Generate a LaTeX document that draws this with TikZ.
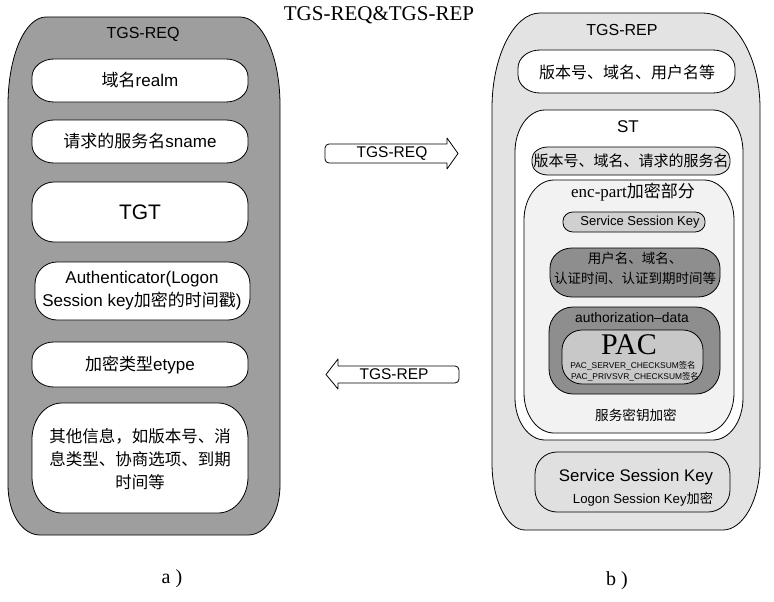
\documentclass[tikz,border=0pt]{standalone}
\usepackage{fontspec}
\setmainfont{Liberation Sans}
\newfontfamily\cjk{Noto Sans CJK SC}
\newfontfamily\tms{Liberation Serif}
\newcommand\zh[1]{{\cjk #1}}
\newcommand\fsz[2]{\fontsize{#1}{#2}\selectfont}
% elliptical-corner box: style, x1, y1, x2, y2, rx, ry
\newcommand\pillbox[7]{%
 \draw[#1] (#2,#3+#7) .. controls (#2,#3+0.448*#7) and (#2+0.448*#6,#3) .. (#2+#6,#3)
  -- (#4-#6,#3) .. controls (#4-0.448*#6,#3) and (#4,#3+0.448*#7) .. (#4,#3+#7)
  -- (#4,#5-#7) .. controls (#4,#5-0.448*#7) and (#4-0.448*#6,#5) .. (#4-#6,#5)
  -- (#2+#6,#5) .. controls (#2+0.448*#6,#5) and (#2,#5-0.448*#7) .. (#2,#5-#7) -- cycle;}
\definecolor{panelAgray}{RGB}{158,158,158}
\definecolor{panelBgray}{RGB}{227,227,227}
\definecolor{lightbox}{RGB}{224,224,224}
\definecolor{encgray}{RGB}{242,242,242}
\definecolor{midgray}{RGB}{208,208,208}
\definecolor{darkgray2}{RGB}{142,142,142}
\definecolor{pacgray}{RGB}{200,200,200}
\tikzset{
  outline/.style={draw=black,line width=0.8pt},
  panelA/.style={outline,fill=panelAgray},
  panelB/.style={outline,fill=panelBgray},
  wbox/.style={outline,fill=white},
  txt/.style={inner sep=0pt,align=center,text=black},
  blockarrow/.style={outline,fill=white,line join=round}
}
\begin{document}
\begin{tikzpicture}[x=1pt,y=-1pt]
\useasboundingbox (0,0) rectangle (774,602);

% title
\node[txt,font=\tms\fsz{21}{24}] (title) at (379,15) {TGS-REQ\&TGS-REP};

% ---------- left panel ----------
\draw[panelA] (8,105) .. controls (8,56) and (25,17) .. (46,17) -- (240,17)
  .. controls (262,17) and (280,56) .. (280,105) -- (280,485)
  .. controls (280,513) and (266,535) .. (248,535) -- (40,535)
  .. controls (22,535) and (8,513) .. (8,485) -- cycle;
\node[txt,font=\fsz{16}{18}] (reqtitle) at (143,34) {TGS-REQ};

\pillbox{wbox}{32}{59}{248}{102}{22}{18}
\node[txt,font=\fsz{17}{20}] (realm) at (140,80) {\zh{域名}realm};

\pillbox{wbox}{32}{120}{248}{163}{22}{18}
\node[txt,font=\fsz{17}{20}] (sname) at (140,141) {\zh{请求的服务名}sname};

\pillbox{wbox}{32}{182}{248}{242}{22}{22}
\node[txt,font=\fsz{21}{24}] (tgt) at (140,212) {TGT};

\pillbox{wbox}{35}{262}{250}{320}{22}{22}
\node[txt,font=\fsz{17}{23}] (auth) at (142,291) {Authenticator(Logon\\Session key\zh{加密的时间戳})};

\pillbox{wbox}{32}{342}{248}{387}{22}{18}
\node[txt,font=\fsz{17}{20}] (etype) at (140,365) {\zh{加密类型}etype};

\pillbox{wbox}{32}{403}{248}{513}{30}{36}
\node[txt,font=\cjk\fsz{16.5}{23}] (other) at (140,459) {其他信息，如版本号、消\\息类型、协商选项、到期\\时间等};

% ---------- arrows ----------
\draw[blockarrow] (447,163) [rounded corners=4] -- (325,163) -- (325,144) [sharp corners] -- (447,144)
  -- (447,138) -- (458,153.5) -- (447,169) -- cycle;
\node[txt,font=\fsz{15.5}{18}] (reqarrow) at (392,153.5) {TGS-REQ};

\draw[blockarrow] (338,366) [rounded corners=4] -- (459,366) -- (459,383) [sharp corners] -- (338,383)
  -- (338,389) -- (326,374.5) -- (338,359) -- cycle;
\node[txt,font=\fsz{15.5}{18}] (reparrow) at (394,374.5) {TGS-REP};

% ---------- right panel ----------
\draw[panelB] (492,108) .. controls (492,56) and (514,13) .. (540,13) -- (703,13)
  .. controls (734,13) and (760,56) .. (760,108) -- (760,463)
  .. controls (760,500) and (743,530) .. (723,530) -- (525,530)
  .. controls (507,530) and (492,500) .. (492,463) -- cycle;
\node[txt,font=\fsz{16}{18}] (reptitle) at (622,30) {TGS-REP};

\pillbox{wbox}{518}{50}{735}{93}{22}{18}
\node[txt,font=\cjk\fsz{16}{20}] (repinfo) at (627,72) {版本号、域名、用户名等};

% ST
\pillbox{wbox}{515}{110}{743}{440}{30}{42}
\node[txt,font=\fsz{17}{20}] (st) at (628,127) {ST};

\pillbox{outline,fill=lightbox}{532}{147}{730}{175}{16}{12}
\node[txt,font=\cjk\fsz{15}{18}] (stinfo) at (631,161) {版本号、域名、请求的服务名};

% enc-part
\pillbox{outline,fill=encgray}{524}{180}{734}{433}{30}{40}
\node[txt,font=\fsz{17}{20}] (enc) at (633,192) {{\tms enc-part}\zh{加密部分}};

\pillbox{outline,fill=midgray}{563}{212}{705}{232}{10}{9}
\node[txt,font=\fsz{13}{15}] (ssksmall) at (640,222) {Service Session Key};

\pillbox{outline,fill=darkgray2}{550}{248}{720}{297}{22}{20}
\node[txt,font=\cjk\fsz{13.5}{20}] (userinfo) at (635,268) {用户名、域名、\\认证时间、认证到期时间等};

\pillbox{outline,fill=darkgray2}{549}{307}{720}{394}{24}{25}
\node[txt,font=\fsz{13.8}{16}] (authdata) at (632,318) {authorization\textendash data};

\pillbox{outline,fill=pacgray}{562}{330}{703}{384}{20}{20}
\node[txt,font=\tms\fsz{30}{32}] (pac) at (629,345) {PAC};
\node[txt,font=\fsz{8.4}{10}] (pacsrv) at (633,366) {PAC\_SERVER\_CHECKSUM\zh{签名}};
\node[txt,font=\fsz{8.4}{10}] (pacpriv) at (635,377) {PAC\_PRIVSVR\_CHECKSUM\zh{签名}};

\node[txt,font=\cjk\fsz{13.6}{16}] (svcenc) at (636,415) {服务密钥加密};

% Service Session Key (bottom)
\pillbox{outline,fill=lightbox}{535}{452}{730}{512}{22}{22}
\node[txt,font=\fsz{16.8}{19}] (sskbig) at (636,477) {Service Session Key};
\node[txt,font=\fsz{13.2}{15}] (logonenc) at (643,499) {Logon Session Key\zh{加密}};

% sub-labels
\node[txt,font=\tms\fsz{20}{22}] (laba) at (172,579) {a\hspace{5pt})};
\node[txt,font=\tms\fsz{20}{22}] (labb) at (617,581) {b\hspace{5pt})};
\end{tikzpicture}
\end{document}
